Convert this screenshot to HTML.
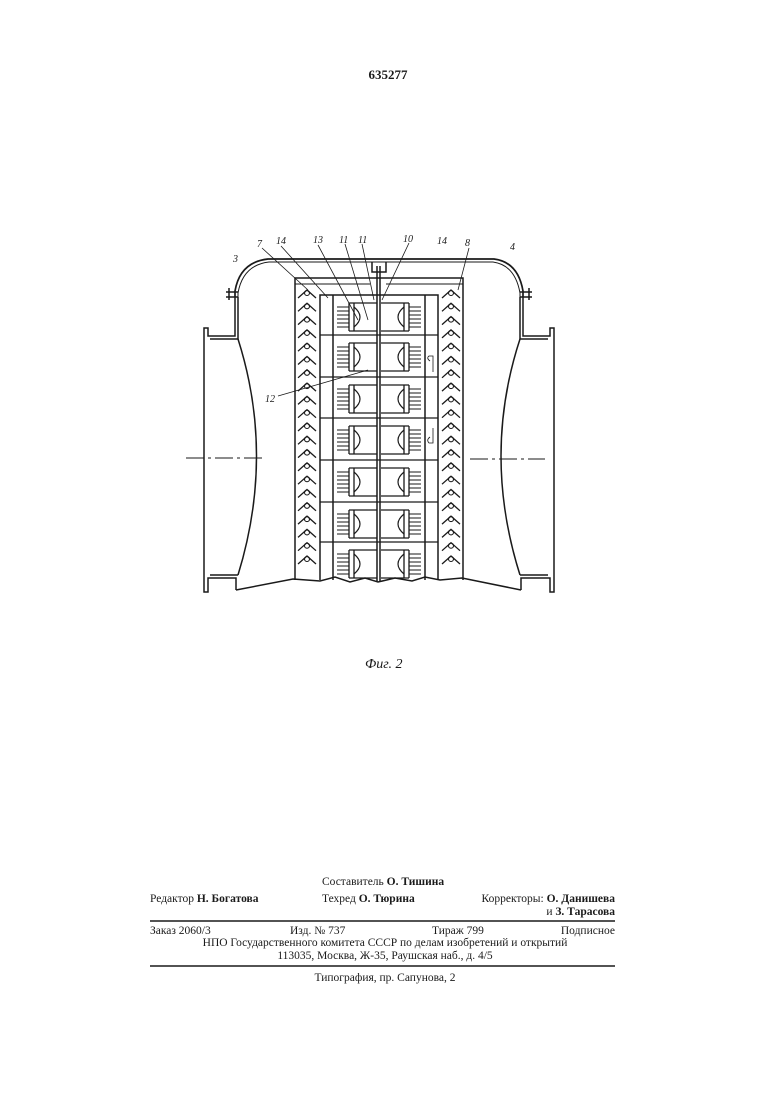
<!DOCTYPE html>
<html><head><meta charset="utf-8"><style>
body{margin:0;background:#fff;width:780px;height:1103px;overflow:hidden;position:relative;font-family:"Liberation Serif",serif;color:#1a1a1a}
.t{position:absolute;font-size:11.5px;white-space:nowrap}
b{font-weight:bold}
svg{position:absolute;left:0;top:0}
</style></head><body>
<svg id="s" width="780" height="1103" viewBox="0 0 780 1103" fill="none" stroke="#1a1a1a" stroke-width="1.5">
<text x="388" y="79" font-family="Liberation Serif" font-size="13" font-weight="bold" fill="#1a1a1a" stroke="none" text-anchor="middle">635277</text>
<path d="M235 297 L235 291 Q240 262 268 259 L494 259 Q518 262 523 291 L523 297" stroke-width="1.7"/>
<path d="M238 298 L238 293 Q243 265 269 262 L493 262 Q515 265 520 293 L520 298" stroke-width="1"/>
<path d="M226 292 L238 292 M226 297 L238 297 M229 288 L229 300 M520 292 L532 292 M520 297 L532 297 M529 288 L529 300"/>
<path d="M235 297 L235 336 L208 336 L208 328 L204 328 L204 592 L208 592 L208 578 L236 578 L236 590"/>
<path d="M238 297 L238 339 L210 339 M210 575 L238 575"/>
<path d="M238 339 Q275 455 238 575"/>
<path d="M523 297 L523 336 L550 336 L550 328 L554 328 L554 592 L550 592 L550 578 L521 578 L521 590"/>
<path d="M520 297 L520 339 L548 339 M548 575 L520 575"/>
<path d="M520 339 Q482 455 520 575"/>
<path d="M236 590 L293 579 L320 581 L335 577 L350 582 L365 578 L378 582 L395 578 L412 581 L425 577 L440 580 L462 578 L521 590"/>
<path d="M186 458 L262 458 M470 459 L545 459" stroke-width="0.9" stroke-dasharray="18 4 3 4"/>
<path d="M295 580 L295 278 L463 278 L463 580"/>
<path d="M320 580 L320 295 L438 295 L438 580 M333 580 L333 295 M425 580 L425 295"/>
<path d="M295 284 L370 284 M386 284 L463 284" stroke-width="1"/>
<path d="M372 262 L372 272 L386 272 L386 262"/>
<path d="M377 266 L377 582 M380 266 L380 582"/>
<g id="g"></g>
<g font-family="Liberation Serif" font-style="italic" font-size="10" fill="#1a1a1a" stroke="none">
<text x="233" y="262">3</text><text x="257" y="247">7</text><text x="276" y="244">14</text>
<text x="313" y="243">13</text><text x="339" y="243">11</text><text x="358" y="243">11</text>
<text x="403" y="242">10</text><text x="437" y="244">14</text><text x="465" y="246">8</text>
<text x="510" y="250">4</text><text x="265" y="402">12</text>
</g>
<g stroke-width="0.8">
<path d="M262 248 L308 290 M281 246 L328 298 M318 245 L358 320 M345 244 L368 320 M362 244 L374 300 M409 243 L382 300 M469 248 L458 290"/>
<path d="M278 396 L368 370"/>
<path d="M430 361 Q426 358 429 356 L433 356 L433 372 M430 437 Q426 440 429 443 L433 443 L433 428"/>
</g>
<path d="M150 921 L615 921 M150 966 L615 966" stroke-width="1.4"/>
</svg>
<div class="t" style="left:365px;top:657px;font-size:14px;font-style:italic">Фиг. 2</div>
<div class="t" style="left:322px;top:876px">Составитель <b>О. Тишина</b></div>
<div class="t" style="left:150px;top:893px">Редактор <b>Н. Богатова</b></div>
<div class="t" style="left:322px;top:893px">Техред <b>О. Тюрина</b></div>
<div class="t" style="left:470px;top:893px;width:145px;text-align:right">Корректоры: <b>О. Данишева</b></div>
<div class="t" style="left:470px;top:906px;width:145px;text-align:right">и <b>З. Тарасова</b></div>
<div class="t" style="left:150px;top:925px">Заказ 2060/3</div>
<div class="t" style="left:290px;top:925px">Изд. № 737</div>
<div class="t" style="left:432px;top:925px">Тираж 799</div>
<div class="t" style="left:540px;top:925px;width:75px;text-align:right">Подписное</div>
<div class="t" style="left:150px;top:937px;width:470px;text-align:center">НПО Государственного комитета СССР по делам изобретений и открытий</div>
<div class="t" style="left:150px;top:950px;width:470px;text-align:center">113035, Москва, Ж-35, Раушская наб., д. 4/5</div>
<div class="t" style="left:150px;top:972px;width:470px;text-align:center">Типография, пр. Сапунова, 2</div>
<script>
var g=document.getElementById('g'),h='';
function P(d,w){h+='<path d="'+d+'"'+(w?' stroke-width="'+w+'"':'')+'/>';}
for(var i=0;i<21;i++){var y=290+i*13.3;
 [307,451].forEach(function(cx){P('M'+(cx-9)+' '+(y+8)+' L'+cx+' '+y+' L'+(cx+9)+' '+(y+8),1.3);h+='<circle cx="'+cx+'" cy="'+(y+3)+'" r="2.5" stroke-width="1.1"/>';});}
var rows=[295,335,377,418,460,502,542];
for(var r=0;r<rows.length;r++){var y0=rows[r];
 if(r>0)P('M320 '+y0+' L438 '+y0,1.3);
 var t=y0+8,b=y0+36;
 P('M349 '+t+' L377 '+t+' M349 '+b+' L377 '+b+' M349 '+t+' L349 '+b+' M354 '+t+' L354 '+b,1.3);
 P('M354 '+(t+4)+' Q366 '+((t+b)/2)+' 354 '+(b-4),1.2);
 P('M381 '+t+' L409 '+t+' M381 '+b+' L409 '+b+' M409 '+t+' L409 '+b+' M404 '+t+' L404 '+b,1.3);
 P('M404 '+(t+4)+' Q392 '+((t+b)/2)+' 404 '+(b-4),1.2);
 for(var k=0;k<6;k++){var yy=t+4+k*4;P('M337 '+yy+' L349 '+yy+' M409 '+yy+' L421 '+yy,1);}
}
g.innerHTML=h;
</script>
</body></html>
